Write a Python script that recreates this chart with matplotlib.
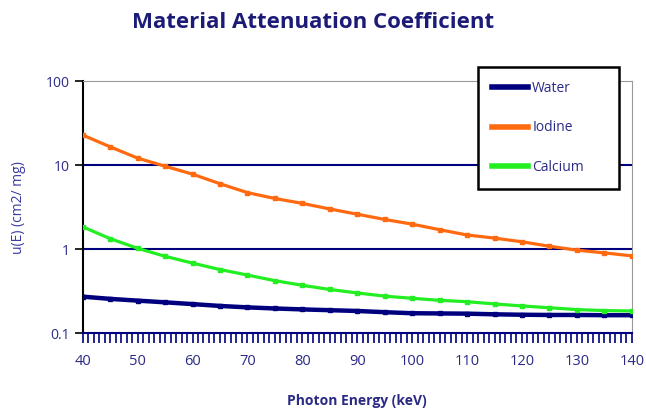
import matplotlib
matplotlib.use('Agg')
import matplotlib.pyplot as plt
from matplotlib.ticker import MultipleLocator, FixedLocator, FixedFormatter

# data (keV, cm2/g-ish)
energy = [40, 45, 50, 55, 60, 65, 70, 75, 80, 85, 90, 95, 100, 105, 110, 115, 120, 125, 130, 135, 140]
water = [0.271, 0.255, 0.243, 0.232, 0.221, 0.210, 0.202, 0.196, 0.191, 0.187, 0.183, 0.177, 0.172,
         0.171, 0.170, 0.167, 0.165, 0.164, 0.164, 0.163, 0.163]
iodine = [22.8, 16.5, 12.1, 9.7, 7.8, 6.0, 4.7, 4.0, 3.5, 3.0, 2.6, 2.25, 1.98,
          1.70, 1.47, 1.35, 1.22, 1.08, 0.97, 0.90, 0.83]
calcium = [1.84, 1.33, 1.02, 0.82, 0.68, 0.57, 0.49, 0.42, 0.37, 0.33, 0.30, 0.275, 0.259,
           0.245, 0.236, 0.222, 0.210, 0.200, 0.190, 0.185, 0.183]

y_ticks = [0.1, 1, 10, 100]
y_labels = ['0.1', '1', '10', '100']

NAVY = '#00007f'
TXT = '#2a2a86'

plt.rcParams['font.family'] = ['Open Sans', 'DejaVu Sans']

fig = plt.figure(figsize=(6.46, 4.16), dpi=100)
ax = fig.add_axes([0.128, 0.1995, 0.85, 0.6055])

ax.plot(energy, water, color=NAVY, lw=3.2, marker='s', ms=3, label='Water', zorder=3)
ax.plot(energy, iodine, color='#ff6a10', lw=2.3, marker='s', ms=3, label='Iodine', zorder=3)
ax.plot(energy, calcium, color='#22ee22', lw=2.3, marker='s', ms=3, label='Calcium', zorder=3)

ax.set_yscale('log')
ax.set_ylim(0.1, 100)
ax.set_xlim(40, 140)
ax.yaxis.set_major_locator(FixedLocator(y_ticks))
ax.yaxis.set_major_formatter(FixedFormatter(y_labels))
ax.yaxis.set_minor_locator(FixedLocator([]))
ax.xaxis.set_major_locator(MultipleLocator(10))
ax.xaxis.set_minor_locator(MultipleLocator(1))

# horizontal grid lines at 1 and 10
for g in [1, 10]:
    ax.axhline(g, color=NAVY, lw=1.5, zorder=1)

ax.spines['top'].set_color('#999999')
ax.spines['right'].set_color('#999999')
ax.spines['left'].set_color('black')
ax.spines['left'].set_linewidth(1.5)
ax.spines['bottom'].set_color(NAVY)
ax.spines['bottom'].set_linewidth(1.5)

ax.tick_params(axis='y', colors='black', labelcolor=TXT, length=6, width=1.2, labelsize=10)
ax.tick_params(axis='x', which='both', colors=NAVY, labelcolor=TXT, length=7, width=1.2,
               labelsize=10.5, pad=8)

ax.set_xlabel('Photon Energy (keV)', color=TXT, fontsize=10, fontweight='bold', labelpad=18)
ax.set_ylabel('u(E) (cm2/ mg)', color='#3a3aa0', fontsize=10, labelpad=14)

fig.text(0.484, 0.947, 'Material Attenuation Coefficient', ha='center', va='center',
         fontsize=16, fontweight='bold', color='#1c1c78')

leg = ax.legend(loc='center', bbox_to_anchor=(0.74, 0.548, 0.218, 0.289),
                bbox_transform=fig.transFigure, mode='expand', borderaxespad=0,
                frameon=True, fancybox=False, framealpha=1,
                edgecolor='black', fontsize=10, labelcolor=TXT, handlelength=2.6,
                labelspacing=1.75, borderpad=1.0, handletextpad=0.3)
leg.get_frame().set_linewidth(1.8)
for h in leg.get_lines():
    h.set_marker('')
    h.set_linewidth(4)
leg.set_zorder(5)

fig.savefig('out.png', dpi=100)
